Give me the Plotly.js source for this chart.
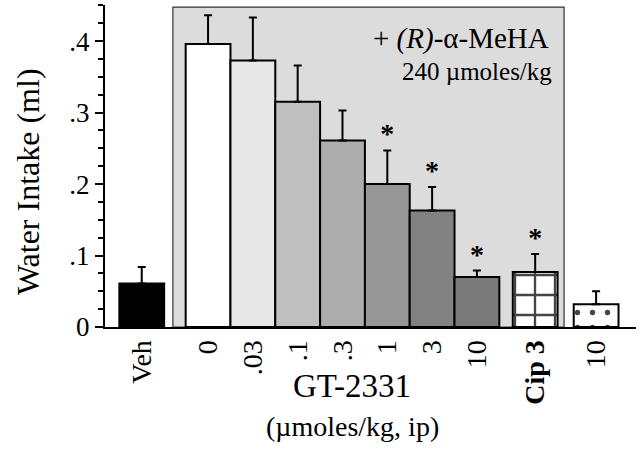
<!DOCTYPE html>
<html>
<head>
<meta charset="utf-8">
<script src="https://cdn.plot.ly/plotly-3.0.1.min.js"></script>
<style>html,body{margin:0;padding:0;background:#fff;}#chart{width:640px;height:451px;}</style>
</head>
<body>
<div id="chart"></div>
<script>
// ---- data ----
const labels = ['Veh', '0', '.03', '.1', '.3', '1', '3', '10', 'Cip 3', '10'];
const intake = [0.061, 0.396, 0.373, 0.315, 0.261, 0.200, 0.163, 0.070, 0.077, 0.032];
const sem = [0.023, 0.040, 0.060, 0.051, 0.042, 0.047, 0.033, 0.009, 0.025, 0.018];
const significant = [false, false, false, false, false, true, true, true, true, false];

// ---- layout / style (not data) ----
const xpos = [-1.48, 0, 1, 2, 3, 4, 5, 6, 7.3, 8.66];
const fills = ['#000000', '#ffffff', '#e8e8e8', '#bfbfbf', '#adadad', '#979797', '#828282', '#7a7a7a', '#ffffff', '#ffffff'];
const patShape = ['', '', '', '', '', '', '', '', '+', '.'];
const patSize = [8, 8, 8, 8, 8, 8, 8, 8, 20, 15];
const patSolid = [0.3, 0.3, 0.3, 0.3, 0.3, 0.3, 0.3, 0.3, 0.22, 0.1];
const FONT = 'Liberation Serif, Times New Roman, serif';

const tickText = labels.map(l => l.startsWith('Cip') ? '<b>' + l + '</b>' : l);

const bars = {
  type: 'bar',
  x: xpos,
  y: intake,
  width: 1.0,
  marker: {
    color: fills,
    line: {color: '#000', width: 2},
    pattern: {shape: patShape, size: patSize, solidity: patSolid, fgcolor: '#000', fgopacity: 1, fillmode: 'overlay'}
  },
  error_y: {type: 'data', symmetric: false, array: sem, arrayminus: sem.map(() => 0), color: '#000', thickness: 2, width: 4},
  hoverinfo: 'none'
};

const sigX = [], sigY = [];
significant.forEach((s, i) => { if (s) { sigX.push(xpos[i]); sigY.push(intake[i] + sem[i]); } });
const stars = {
  type: 'scatter', mode: 'text', x: sigX, y: sigY,
  text: sigX.map(() => '<b>*</b>'), textposition: 'top center',
  textfont: {family: FONT, size: 28, color: '#000'}, hoverinfo: 'none', cliponaxis: false
};

const layout = {
  width: 640, height: 451,
  margin: {l: 105, r: 4, t: 5, b: 124},
  paper_bgcolor: '#fff', plot_bgcolor: 'rgba(0,0,0,0)',
  showlegend: false, barmode: 'overlay',
  font: {family: FONT, color: '#000'},
  xaxis: {
    range: [-2.3, 9.55], showgrid: false, zeroline: false,
    showline: true, linecolor: '#000', linewidth: 2,
    tickmode: 'array', tickvals: xpos, ticktext: tickText, tickangle: -90,
    ticks: '', tickfont: {family: FONT, size: 28, color: '#000'}
  },
  yaxis: {
    range: [0, 0.4505], showgrid: false, zeroline: false,
    showline: true, linecolor: '#000', linewidth: 2,
    tickmode: 'array', tickvals: [0, 0.1, 0.2, 0.3, 0.4], ticktext: ['0', '.1', '.2', '.3', '.4'],
    ticks: 'outside', ticklen: 8, tickwidth: 2, tickcolor: '#000',
    minor: {dtick: 0.025, ticks: 'outside', ticklen: 5, tickwidth: 2, tickcolor: '#000', showgrid: false},
    tickfont: {family: FONT, size: 27, color: '#000'}
  },
  shapes: [{
    type: 'rect', layer: 'below', xref: 'x', yref: 'y',
    x0: -0.785, x1: 7.945, y0: 0, y1: 0.4476,
    fillcolor: '#dcdcdc', line: {color: '#333', width: 1.2}
  }],
  annotations: [
    {xref: 'paper', yref: 'paper', x: -0.145, y: 0.45, text: 'Water Intake (ml)', textangle: -90,
     showarrow: false, font: {family: FONT, size: 32, color: '#000'}, xanchor: 'center', yanchor: 'middle'},
    {xref: 'paper', yref: 'paper', x: 0.465, y: -0.183, text: 'GT-2331',
     showarrow: false, font: {family: FONT, size: 33, color: '#000'}, xanchor: 'center', yanchor: 'middle'},
    {xref: 'paper', yref: 'paper', x: 0.467, y: -0.31, text: '(\u00b5moles/kg, ip)',
     showarrow: false, font: {family: FONT, size: 28, color: '#000'}, xanchor: 'center', yanchor: 'middle'},
    {xref: 'x', yref: 'paper', x: 7.65, y: 0.897, text: '+ <i>(R)</i>-\u03b1-MeHA',
     showarrow: false, font: {family: FONT, size: 29, color: '#000'}, xanchor: 'right', yanchor: 'middle'},
    {xref: 'x', yref: 'paper', x: 7.72, y: 0.793, text: '240 \u00b5moles/kg',
     showarrow: false, font: {family: FONT, size: 25, color: '#000'}, xanchor: 'right', yanchor: 'middle'}
  ]
};

Plotly.newPlot('chart', [bars, stars], layout, {displayModeBar: false, staticPlot: true});
</script>
</body>
</html>
